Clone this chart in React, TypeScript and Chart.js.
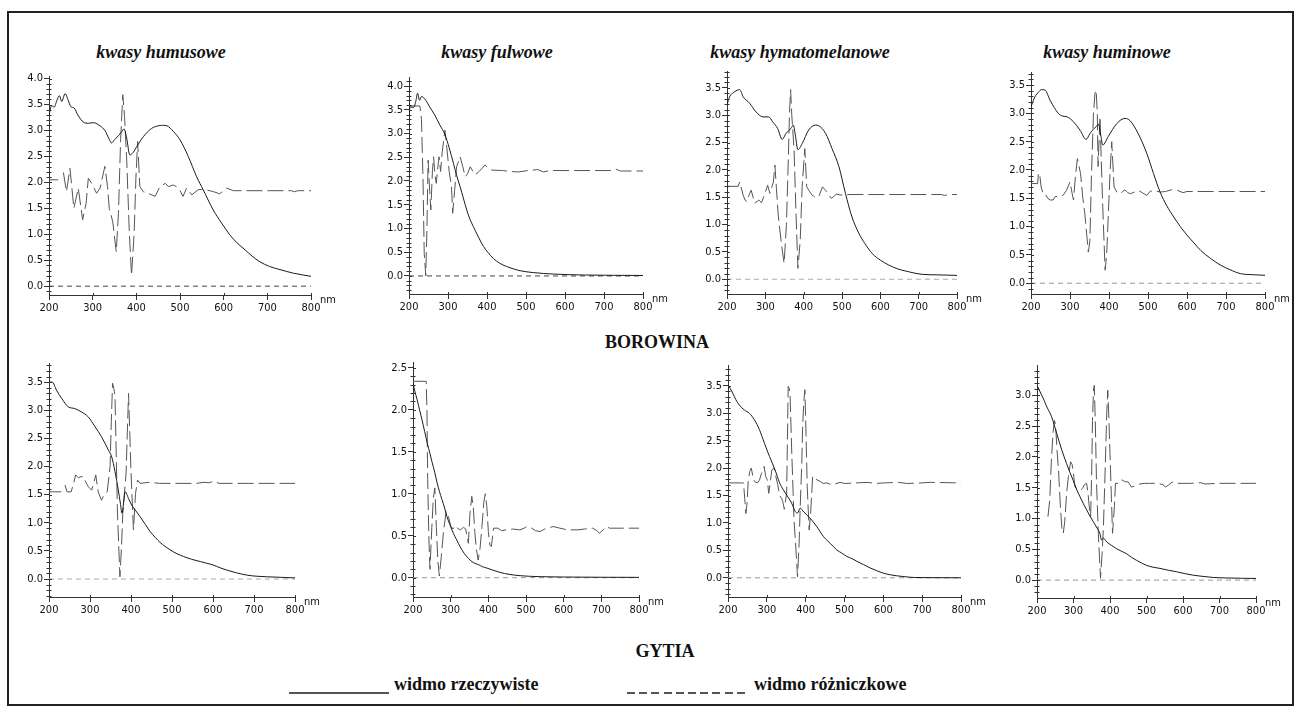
import React, { useEffect, useRef } from 'react';
import { Chart, registerables } from 'chart.js';

Chart.register(...registerables);

type Pt = [number, number | null];

// ---- labels ----
const wavelengthTicks = [200, 300, 400, 500, 600, 700, 800];
const acidTitles = ['kwasy humusowe', 'kwasy fulwowe', 'kwasy hymatomelanowe', 'kwasy huminowe'];
const sampleNames = ['BOROWINA', 'GYTIA'];
const legendNames = ['widmo rzeczywiste', 'widmo różniczkowe'];

// ---- BOROWINA ----
const humusoweBorowinaReal: Pt[] = [
  [200, 3.3], [206, 3.48], [212, 3.45], [218, 3.58], [224, 3.67], [229, 3.56], [237, 3.71], [244, 3.58],
  [250, 3.46], [258, 3.43], [266, 3.3], [279, 3.16], [290, 3.14], [302, 3.15], [317, 3.09], [328, 3.0],
  [338, 2.83], [343, 2.76], [350, 2.82], [359, 2.9], [366, 2.97], [372, 3.03], [378, 2.85], [385, 2.53],
  [393, 2.58], [401, 2.69], [416, 2.88], [435, 3.04], [450, 3.09], [460, 3.1], [470, 3.09], [485, 2.98],
  [500, 2.82], [519, 2.5], [538, 2.11], [553, 1.86], [576, 1.47], [595, 1.22], [614, 0.99], [630, 0.84],
  [649, 0.7], [665, 0.58], [683, 0.47], [705, 0.38], [729, 0.32], [760, 0.25], [800, 0.19],
];
const humusoweBorowinaDiff: Pt[] = [
  [200, 2.05], [221, 2.05], [226, null], [233, 2.19], [240, 1.82], [248, 2.27], [257, 1.5], [267, 1.89],
  [277, 1.28], [285, 1.6], [290, 2.08], [298, 1.98], [309, 1.79], [317, 1.89], [328, 2.31], [334, 1.92],
  [338, 1.5], [346, 1.24], [354, 0.66], [359, 1.4], [364, 2.82], [369, 3.69], [373, 3.27], [378, 2.43],
  [384, 1.02], [389, 0.21], [395, 1.02], [399, 2.08], [403, 2.79], [408, 1.92], [416, 1.82], [427, 1.79],
  [443, 1.73], [454, 1.92], [466, 1.98], [474, 1.92], [485, 1.95], [497, 1.89], [507, 1.73], [515, 1.89],
  [527, 1.76], [542, 1.86], [558, 1.86], [577, 1.82], [591, 1.78], [607, 1.89], [622, 1.84], [755, 1.84],
  [762, 1.82], [770, 1.84], [800, 1.84],
];

const fulwoweBorowinaReal: Pt[] = [
  [200, 3.39], [203, 3.56], [212, 3.55], [218, 3.7], [222, 3.85], [227, 3.7], [232, 3.78], [243, 3.7],
  [253, 3.56], [266, 3.39], [279, 3.18], [292, 2.98], [303, 2.7], [314, 2.37], [322, 2.12], [331, 1.88],
  [340, 1.62], [348, 1.39], [356, 1.2], [365, 1.04], [378, 0.82], [391, 0.62], [403, 0.49], [416, 0.37],
  [432, 0.27], [450, 0.2], [468, 0.15], [485, 0.11], [520, 0.07], [570, 0.04], [650, 0.02], [800, 0.01],
];
const fulwoweBorowinaDiff: Pt[] = [
  [200, 3.58], [228, 3.58], [232, 3.3], [236, 2.0], [239, 0.48], [243, 0.0], [246, 1.0], [249, 2.44],
  [253, 1.8], [256, 1.39], [260, 2.2], [263, 2.51], [267, 2.1], [270, 1.95], [274, 2.3], [277, 2.51],
  [281, 2.2], [285, 2.6], [289, 2.86], [292, 3.07], [297, 2.7], [303, 2.2], [309, 1.88], [312, 1.32],
  [317, 1.8], [322, 2.3], [331, 2.51], [338, 2.3], [344, 2.09], [350, 2.15], [357, 2.3], [364, 2.2],
  [370, 2.13], [380, 2.2], [395, 2.34], [403, 2.27], [412, 2.23], [440, 2.22], [460, 2.2], [480, 2.19],
  [505, 2.22], [530, 2.24], [545, 2.19], [560, 2.22], [715, 2.22], [730, 2.25], [742, 2.21], [800, 2.21],
];

const hymatomelanoweBorowinaReal: Pt[] = [
  [200, 3.19], [207, 3.34], [220, 3.43], [233, 3.47], [242, 3.34], [259, 3.22], [276, 3.06], [294, 2.97],
  [309, 2.97], [319, 2.88], [332, 2.76], [344, 2.56], [354, 2.67], [367, 2.76], [373, 2.82], [378, 2.65],
  [385, 2.37], [396, 2.48], [413, 2.73], [431, 2.82], [439, 2.81], [457, 2.67], [474, 2.39], [492, 2.06],
  [509, 1.57], [526, 1.14], [544, 0.84], [560, 0.65], [579, 0.47], [600, 0.35], [622, 0.26], [645, 0.19],
  [666, 0.15], [709, 0.09], [750, 0.08], [800, 0.07],
];
const hymatomelanoweBorowinaDiff: Pt[] = [
  [200, 1.7], [229, 1.7], [233, 1.78], [238, 1.65], [242, 1.54], [247, 1.45], [252, 1.42], [258, 1.55],
  [263, 1.63], [268, 1.5], [272, 1.39], [278, 1.42], [283, 1.45], [290, 1.4], [298, 1.55], [306, 1.72],
  [312, 1.57], [321, 1.78], [325, 2.09], [329, 1.65], [334, 1.14], [343, 0.59], [349, 0.29], [355, 1.0],
  [360, 2.2], [363, 3.05], [366, 3.47], [369, 3.0], [375, 2.36], [380, 1.2], [385, 0.2], [391, 0.71],
  [396, 1.69], [403, 2.39], [408, 1.69], [416, 1.6], [422, 1.54], [430, 1.5], [440, 1.52], [449, 1.69],
  [458, 1.62], [465, 1.55], [472, 1.48], [480, 1.52], [485, 1.56], [495, 1.54], [510, 1.55], [760, 1.55],
  [768, 1.53], [776, 1.55], [800, 1.55],
];

const huminoweBorowinaReal: Pt[] = [
  [200, 3.12], [210, 3.29], [220, 3.38], [227, 3.42], [236, 3.41], [249, 3.23], [260, 3.1], [270, 3.0],
  [282, 2.95], [292, 2.94], [309, 2.85], [326, 2.7], [341, 2.54], [351, 2.64], [360, 2.72], [368, 2.77],
  [373, 2.81], [378, 2.65], [384, 2.44], [398, 2.59], [420, 2.82], [441, 2.91], [454, 2.87], [475, 2.64],
  [497, 2.29], [514, 1.94], [531, 1.61], [548, 1.37], [566, 1.17], [583, 1.0], [600, 0.85], [618, 0.71],
  [635, 0.58], [660, 0.44], [686, 0.32], [710, 0.24], [737, 0.17], [770, 0.15], [800, 0.14],
];
const huminoweBorowinaDiff: Pt[] = [
  [200, 1.76], [217, 1.76], [219, 1.94], [222, 1.94], [226, 1.7], [231, 1.58], [236, 1.58], [243, 1.5],
  [249, 1.47], [257, 1.47], [262, 1.53], [270, 1.53], [282, 1.55], [291, 1.64], [300, 1.79], [305, 1.6],
  [309, 1.47], [314, 1.9], [319, 2.2], [327, 1.94], [333, 1.5], [338, 1.23], [343, 0.85], [347, 0.55],
  [351, 0.75], [355, 1.9], [360, 2.97], [364, 3.35], [367, 3.41], [370, 3.0], [372, 2.06], [375, 2.6],
  [377, 2.94], [380, 2.2], [384, 1.35], [390, 0.23], [394, 0.5], [398, 1.17], [403, 2.0], [407, 2.5],
  [413, 1.7], [420, 1.61], [428, 1.58], [435, 1.62], [441, 1.65], [448, 1.6], [455, 1.58], [465, 1.61],
  [475, 1.64], [485, 1.6], [497, 1.55], [505, 1.62], [515, 1.64], [531, 1.61], [545, 1.62], [560, 1.65],
  [575, 1.64], [590, 1.6], [600, 1.62], [800, 1.62],
];

// ---- GYTIA ----
const humusoweGytiaReal: Pt[] = [
  [200, 3.5], [208, 3.5], [218, 3.36], [231, 3.21], [247, 3.06], [263, 3.03], [279, 2.97], [296, 2.88],
  [312, 2.71], [328, 2.53], [345, 2.29], [353, 2.17], [361, 1.91], [369, 1.58], [374, 1.35], [378, 1.17],
  [386, 1.55], [394, 1.43], [402, 1.31], [412, 1.21], [422, 1.11], [435, 0.97], [447, 0.84], [459, 0.74],
  [471, 0.65], [483, 0.58], [495, 0.52], [512, 0.45], [528, 0.4], [548, 0.35], [569, 0.31], [585, 0.28],
  [600, 0.25], [617, 0.2], [633, 0.16], [657, 0.11], [682, 0.07], [705, 0.05], [730, 0.04], [765, 0.03],
  [800, 0.02],
];
const humusoweGytiaDiff: Pt[] = [
  [200, 1.55], [230, 1.55], [235, null], [239, 1.67], [244, 1.55], [254, 1.55], [259, 1.67], [265, 1.85],
  [272, 1.8], [278, 1.82], [284, 1.82], [290, 1.72], [296, 1.64], [304, 1.58], [309, 1.7], [314, 1.85],
  [320, 1.55], [328, 1.4], [333, 1.48], [337, 1.52], [342, 1.55], [349, 2.0], [352, 2.8], [355, 3.48],
  [358, 3.4], [361, 3.24], [364, 2.2], [367, 1.17], [373, 0.04], [377, 0.6], [380, 1.17], [388, 1.88],
  [391, 2.6], [394, 3.3], [397, 2.6], [400, 1.91], [406, 0.87], [411, 1.52], [416, 1.76], [422, 1.7],
  [445, 1.72], [470, 1.7], [560, 1.7], [578, 1.72], [590, 1.71], [602, 1.74], [615, 1.7], [800, 1.7],
];

const fulwoweGytiaReal: Pt[] = [
  [200, 2.32], [205, 2.22], [211, 2.12], [218, 1.99], [224, 1.88], [231, 1.74], [238, 1.6], [245, 1.48],
  [251, 1.37], [258, 1.25], [264, 1.13], [270, 1.03], [277, 0.93], [284, 0.83], [290, 0.73], [298, 0.63],
  [307, 0.53], [316, 0.45], [325, 0.37], [336, 0.29], [347, 0.23], [360, 0.18], [374, 0.155], [385, 0.13],
  [396, 0.115], [412, 0.09], [431, 0.063], [455, 0.04], [484, 0.024], [540, 0.012], [600, 0.008],
  [700, 0.005], [800, 0.004],
];
const fulwoweGytiaDiff: Pt[] = [
  [200, 2.34], [235, 2.34], [237, 2.0], [239, 1.17], [242, 0.5], [245, 0.1], [250, 0.6], [254, 0.95],
  [258, 1.07], [262, 0.6], [266, 0.2], [270, 0.02], [275, 0.25], [281, 0.55], [288, 0.79], [294, 0.73],
  [300, 0.62], [306, 0.58], [312, 0.62], [318, 0.59], [326, 0.57], [334, 0.6], [340, 0.58], [347, 0.41],
  [351, 0.75], [356, 0.97], [360, 0.85], [364, 0.55], [368, 0.35], [373, 0.21], [378, 0.35], [383, 0.6],
  [388, 0.9], [392, 1.0], [396, 0.85], [400, 0.55], [404, 0.39], [408, 0.37], [414, 0.59], [425, 0.59],
  [435, 0.56], [447, 0.57], [465, 0.58], [484, 0.57], [495, 0.59], [502, 0.61], [515, 0.59], [525, 0.56],
  [537, 0.55], [550, 0.58], [572, 0.61], [590, 0.59], [610, 0.57], [638, 0.57], [655, 0.58], [677, 0.59],
  [688, 0.56], [695, 0.53], [705, 0.57], [713, 0.61], [722, 0.59], [800, 0.59],
];

const hymatomelanoweGytiaReal: Pt[] = [
  [200, 3.52], [212, 3.37], [220, 3.25], [229, 3.15], [242, 3.06], [255, 3.0], [268, 2.88], [281, 2.7],
  [294, 2.45], [307, 2.21], [321, 1.97], [333, 1.73], [342, 1.61], [351, 1.51], [364, 1.36], [373, 1.21],
  [379, 1.18], [386, 1.27], [395, 1.2], [411, 1.09], [428, 0.94], [446, 0.75], [463, 0.63], [480, 0.51],
  [493, 0.45], [506, 0.39], [519, 0.35], [532, 0.3], [549, 0.24], [566, 0.18], [583, 0.13], [600, 0.085],
  [618, 0.055], [635, 0.036], [656, 0.02], [678, 0.006], [720, 0.003], [800, 0.0],
];
const hymatomelanoweGytiaDiff: Pt[] = [
  [200, 1.73], [235, 1.73], [240, 1.73], [243, 1.45], [246, 1.17], [249, 1.35], [252, 1.75], [256, 1.94],
  [260, 2.0], [264, 1.85], [268, 1.76], [272, 1.74], [276, 1.73], [281, 1.78], [286, 1.9], [293, 2.03],
  [297, 1.85], [301, 1.79], [305, 1.54], [309, 1.75], [313, 1.97], [319, 2.0], [323, 1.85], [328, 1.7],
  [333, 1.5], [338, 1.45], [341, 1.39], [345, 1.25], [351, 1.54], [353, 2.5], [355, 3.49], [358, 3.45],
  [360, 3.3], [364, 2.33], [370, 1.06], [375, 0.51], [379, 0.02], [383, 0.6], [386, 1.3], [390, 2.1],
  [392, 2.7], [395, 3.2], [398, 3.43], [401, 2.6], [404, 1.66], [409, 0.87], [413, 1.2], [418, 1.85],
  [425, 1.8], [437, 1.76], [445, 1.72], [454, 1.73], [466, 1.7], [475, 1.71], [489, 1.74], [500, 1.72],
  [530, 1.73], [560, 1.74], [580, 1.72], [600, 1.73], [640, 1.74], [660, 1.72], [700, 1.73], [720, 1.74],
  [800, 1.73],
];

const huminoweGytiaReal: Pt[] = [
  [200, 3.16], [213, 3.0], [220, 2.91], [227, 2.81], [234, 2.73], [240, 2.65], [247, 2.52], [254, 2.38],
  [261, 2.24], [268, 2.11], [281, 1.89], [290, 1.75], [299, 1.62], [308, 1.48], [318, 1.35], [327, 1.24],
  [336, 1.14], [345, 1.04], [354, 0.95], [365, 0.84], [372, 0.76], [377, 0.65], [382, 0.68], [391, 0.62],
  [405, 0.56], [418, 0.51], [431, 0.47], [445, 0.43], [459, 0.37], [473, 0.32], [486, 0.28], [500, 0.24],
  [518, 0.21], [537, 0.19], [560, 0.16], [583, 0.135], [605, 0.105], [628, 0.08], [655, 0.06],
  [683, 0.043], [720, 0.035], [760, 0.03], [800, 0.027],
];
const huminoweGytiaDiff: Pt[] = [
  [230, 1.03], [235, 1.3], [239, 1.9], [244, 2.4], [248, 2.59], [251, 2.5], [255, 2.1], [259, 1.78],
  [264, 1.2], [268, 0.85], [272, 0.76], [276, 0.95], [281, 1.4], [286, 1.68], [292, 1.92], [296, 1.88],
  [299, 1.78], [304, 1.51], [310, 1.48], [318, 1.45], [325, 1.49], [330, 1.55], [336, 1.57], [340, 1.4],
  [343, 1.2], [347, 1.03], [350, 1.8], [352, 2.59], [355, 3.1], [357, 3.16], [360, 2.5], [363, 1.6],
  [368, 0.76], [374, 0.03], [378, 0.4], [382, 0.86], [388, 2.05], [391, 2.7], [394, 3.08], [397, 2.6],
  [400, 2.05], [404, 1.3], [407, 0.76], [412, 1.19], [415, 1.57], [422, 1.57], [431, 1.63], [440, 1.6],
  [450, 1.59], [459, 1.51], [470, 1.53], [482, 1.56], [495, 1.57], [509, 1.57], [530, 1.57], [545, 1.55],
  [552, 1.51], [560, 1.54], [570, 1.59], [580, 1.57], [620, 1.57], [650, 1.58], [660, 1.56], [700, 1.57],
  [800, 1.57],
];

// ---- layout of the small plots ----
const AX_W = 42; // room for y tick labels
const AX_H = 24; // room for x tick labels
const PAD_T = 8;
const PAD_R = 34;

const AXIS_FONT = "'Liberation Sans Narrow', 'Arial Narrow', 'DejaVu Sans Condensed', sans-serif";
const SERIF = "'Liberation Serif', 'Times New Roman', serif";

interface PanelSpec {
  real: Pt[];
  diff: Pt[];
  yMin: number;
  yMax: number;
  yTop: number;
  zeroColor: string;
  x0: number; // pixel of 200 nm
  x1: number; // pixel of 800 nm
  top: number; // top of y axis
  bottom: number; // x axis line
}

const panels: PanelSpec[] = [
  { real: humusoweBorowinaReal, diff: humusoweBorowinaDiff, yMin: -0.17, yMax: 4.05, yTop: 4.0, zeroColor: '#444', x0: 49, x1: 311, top: 76, bottom: 295 },
  { real: fulwoweBorowinaReal, diff: fulwoweBorowinaDiff, yMin: -0.38, yMax: 4.19, yTop: 4.0, zeroColor: '#444', x0: 409, x1: 643, top: 77, bottom: 294 },
  { real: hymatomelanoweBorowinaReal, diff: hymatomelanoweBorowinaDiff, yMin: -0.27, yMax: 3.81, yTop: 3.5, zeroColor: '#aaa', x0: 727, x1: 957, top: 71, bottom: 294 },
  { real: huminoweBorowinaReal, diff: huminoweBorowinaDiff, yMin: -0.19, yMax: 3.73, yTop: 3.5, zeroColor: '#999', x0: 1031, x1: 1265, top: 72, bottom: 294 },
  { real: humusoweGytiaReal, diff: humusoweGytiaDiff, yMin: -0.32, yMax: 3.84, yTop: 3.5, zeroColor: '#aaa', x0: 49, x1: 295, top: 363, bottom: 597 },
  { real: fulwoweGytiaReal, diff: fulwoweGytiaDiff, yMin: -0.23, yMax: 2.57, yTop: 2.5, zeroColor: '#999', x0: 413, x1: 639, top: 362, bottom: 597 },
  { real: hymatomelanoweGytiaReal, diff: hymatomelanoweGytiaDiff, yMin: -0.35, yMax: 3.88, yTop: 3.5, zeroColor: '#999', x0: 728, x1: 961, top: 365, bottom: 597 },
  { real: huminoweGytiaReal, diff: huminoweGytiaDiff, yMin: -0.29, yMax: 3.49, yTop: 3.0, zeroColor: '#999', x0: 1037, x1: 1256, top: 365, bottom: 598 },
];

const toXY = (pts: Pt[]) => pts.map(([x, y]) => ({ x, y }));

// minor ticks on the y axis, inner stubs and the "nm" unit label
const axisExtras = {
  id: 'axisExtras',
  afterDraw(chart: any) {
    const { ctx, chartArea } = chart;
    const y = chart.scales.y;
    const x = chart.scales.x;
    ctx.save();
    ctx.strokeStyle = '#333';
    ctx.lineWidth = 1;
    ctx.beginPath();
    const lo = Math.ceil(y.min * 10);
    const hi = Math.floor(y.max * 10);
    for (let i = lo; i <= hi; i++) {
      const py = Math.round(y.getPixelForValue(i / 10)) + 0.5;
      const major = i % 5 === 0;
      ctx.moveTo(chartArea.left - (major ? 0 : 2.5), py);
      ctx.lineTo(chartArea.left + (major ? 3 : 2.5), py);
    }
    for (const v of wavelengthTicks) {
      const px = Math.round(x.getPixelForValue(v)) + 0.5;
      ctx.moveTo(px, chartArea.bottom);
      ctx.lineTo(px, chartArea.bottom - 2);
    }
    ctx.stroke();
    ctx.fillStyle = '#111';
    ctx.font = `11px ${AXIS_FONT}`;
    ctx.textAlign = 'left';
    ctx.textBaseline = 'alphabetic';
    ctx.fillText('nm', chartArea.right + 9, chartArea.bottom + 8);
    ctx.restore();
  },
};

function SpectrumPlot({ p }: { p: PanelSpec }) {
  const ref = useRef<HTMLCanvasElement>(null);
  const width = p.x1 - p.x0 + AX_W + PAD_R;
  const height = p.bottom - p.top + PAD_T + AX_H;

  useEffect(() => {
    const majors: number[] = [];
    for (let v = 0; v <= p.yTop + 1e-9; v += 0.5) majors.push(Math.round(v * 10) / 10);
    const chart = new Chart(ref.current as HTMLCanvasElement, {
      type: 'line',
      data: {
        datasets: [
          {
            data: toXY(p.real),
            borderColor: '#1a1a1a',
            borderWidth: 1,
            pointRadius: 0,
            cubicInterpolationMode: 'monotone',
          },
          {
            data: toXY(p.diff),
            borderColor: '#555',
            borderWidth: 1,
            borderDash: [16, 5],
            pointRadius: 0,
            tension: 0,
            spanGaps: false,
          },
          {
            data: [{ x: 200, y: 0 }, { x: 800, y: 0 }],
            borderColor: p.zeroColor,
            borderWidth: 1,
            borderDash: [5, 4],
            pointRadius: 0,
          },
        ],
      } as any,
      options: {
        responsive: false,
        animation: false,
        events: [],
        layout: { padding: { left: 0, right: PAD_R, top: PAD_T, bottom: 0 } },
        plugins: { legend: { display: false }, tooltip: { enabled: false } },
        scales: {
          x: {
            type: 'linear',
            min: 200,
            max: 800,
            afterBuildTicks: (s: any) => {
              s.ticks = wavelengthTicks.map((v) => ({ value: v }));
            },
            afterFit: (s: any) => {
              s.height = AX_H;
            },
            grid: { drawOnChartArea: false, drawTicks: true, tickLength: 5, color: '#333' },
            border: { color: '#333', width: 1 },
            ticks: {
              autoSkip: false,
              maxRotation: 0,
              padding: 2,
              color: '#111',
              font: { family: AXIS_FONT, size: 11 },
              callback: (v: any) => String(v),
            },
          },
          y: {
            type: 'linear',
            min: p.yMin,
            max: p.yMax,
            afterBuildTicks: (s: any) => {
              s.ticks = majors.map((v) => ({ value: v }));
            },
            afterFit: (s: any) => {
              s.width = AX_W;
            },
            grid: { drawOnChartArea: false, drawTicks: true, tickLength: 5, color: '#333' },
            border: { color: '#333', width: 1 },
            ticks: {
              padding: 1,
              color: '#111',
              font: { family: AXIS_FONT, size: 11 },
              callback: (v: any) => Number(v).toFixed(1),
            },
          },
        },
      } as any,
      plugins: [axisExtras],
    });
    return () => chart.destroy();
  }, [p]);

  return (
    <canvas
      ref={ref}
      width={width}
      height={height}
      style={{ position: 'absolute', left: p.x0 - AX_W, top: p.top - PAD_T, width, height }}
    />
  );
}

function Label({ text, x, baseline, size, italic, align = 'center' }: { text: string; x: number; baseline: number; size: number; italic?: boolean; align?: 'center' | 'left' }) {
  const style: React.CSSProperties = {
    position: 'absolute',
    top: baseline - Math.round(size * 0.84),
    left: align === 'center' ? x - 200 : x,
    width: align === 'center' ? 400 : undefined,
    textAlign: align,
    whiteSpace: 'nowrap',
    fontFamily: SERIF,
    fontWeight: 'bold',
    fontStyle: italic ? 'italic' : 'normal',
    fontSize: size,
    lineHeight: `${size}px`,
    color: '#111',
  };
  return <div style={style}>{text}</div>;
}

export default function App() {
  const titleCenters = [161, 497, 800, 1107];
  return (
    <div style={{ position: 'fixed', left: 0, top: 0, width: 1299, height: 719, background: '#fff', overflow: 'hidden' }}>
      <div
        style={{
          position: 'absolute',
          left: 7,
          top: 11,
          width: 1287,
          height: 695,
          border: '2px solid #222',
          boxSizing: 'border-box',
        }}
      />
      {acidTitles.map((t, i) => (
        <Label key={t} text={t} x={titleCenters[i]} baseline={58} size={18} italic />
      ))}
      {panels.map((p, i) => (
        <SpectrumPlot key={i} p={p} />
      ))}
      <Label text={sampleNames[0]} x={657} baseline={348} size={18} />
      <Label text={sampleNames[1]} x={665} baseline={657} size={18} />
      <div style={{ position: 'absolute', left: 289, top: 692, width: 100, height: 2, background: '#555' }} />
      <Label text={legendNames[0]} x={394} baseline={690} size={18} align="left" />
      <div
        style={{
          position: 'absolute',
          left: 627,
          top: 692,
          width: 118,
          height: 2,
          background: 'repeating-linear-gradient(90deg, #555 0px, #555 8px, transparent 8px, transparent 12.2px)',
        }}
      />
      <Label text={legendNames[1]} x={754} baseline={690} size={18} align="left" />
    </div>
  );
}
